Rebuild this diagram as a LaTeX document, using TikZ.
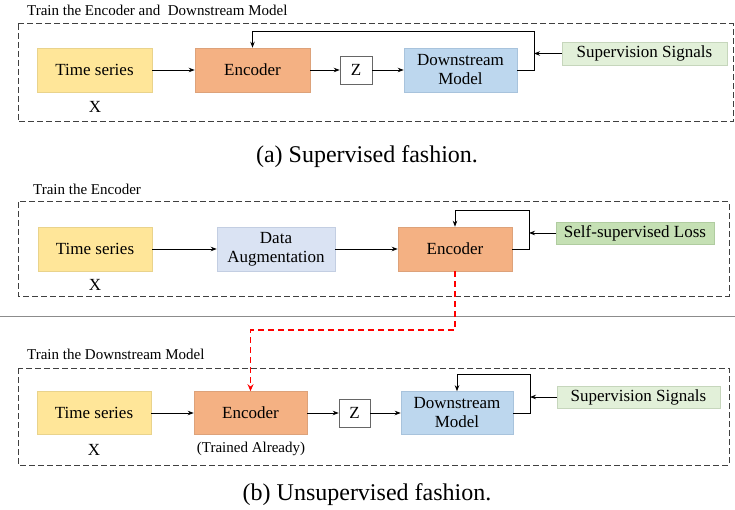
\documentclass[tikz,border=0pt]{standalone}
\usepackage{fontspec}
\setmainfont{Liberation Serif}
\usetikzlibrary{arrows.meta}
\definecolor{cY}{HTML}{FFE699}
\definecolor{cYd}{HTML}{E9D38C}
\definecolor{cO}{HTML}{F4B183}
\definecolor{cOd}{HTML}{DDA27A}
\definecolor{cB}{HTML}{BDD7EE}
\definecolor{cBd}{HTML}{A8C3DC}
\definecolor{cL}{HTML}{DAE3F3}
\definecolor{cLd}{HTML}{C3CEE2}
\definecolor{cG}{HTML}{E2F0D9}
\definecolor{cGd}{HTML}{C6D6BC}
\definecolor{cG2}{HTML}{C5E0B4}
\definecolor{cG2d}{HTML}{B0CCA0}
\begin{document}
\begin{tikzpicture}[x=1pt,y=-1pt,
  box/.style={inner sep=0pt, align=center, line width=0.6pt, font=\fontsize{17}{19}\selectfont},
  lbl/.style={inner sep=0pt, font=\fontsize{17}{19}\selectfont},
  ttl/.style={inner sep=0pt, anchor=west, font=\fontsize{15}{17}\selectfont},
  captxt/.style={inner sep=0pt, font=\fontsize{24}{28}\selectfont},
  arr/.style={-{Stealth[length=6pt,width=4.5pt]}, line width=0.8pt},
  frame/.style={dash pattern=on 6pt off 3pt, draw=black!75, line width=1pt},
  reddash/.style={draw=red, dash pattern=on 6pt off 4pt, line width=1.3pt, -{Stealth[length=7pt,width=6pt]}, color=red}]
\useasboundingbox (0,0) rectangle (735,510);

% ---------- (a) ----------
\node[ttl] (ta) at (27,10) {Train the Encoder and\ \ Downstream Model};
\draw[frame] (18,24) rectangle (733,122);
\node[box,fill=cY,draw=cYd,minimum width=115pt,minimum height=44pt] (ts1) at (94.5,70) {Time series};
\node[lbl] (x1) at (95,107) {X};
\node[box,fill=cO,draw=cOd,minimum width=115pt,minimum height=44pt] (enc1) at (252.5,70) {Encoder};
\node[box,fill=white,draw=black!60,minimum width=32pt,minimum height=28pt] (z1) at (356,70) {Z};
\node[box,fill=cB,draw=cBd,minimum width=113pt,minimum height=44pt] (ds1) at (460.5,70) {Downstream\\Model};
\node[box,fill=cG,draw=cGd,minimum width=165pt,minimum height=23pt] (sup1) at (644.5,53.5) {Supervision Signals};
\coordinate (fa) at (534,31);
\draw[arr] (ts1) -- (enc1);
\draw[arr] (enc1) -- (z1);
\draw[arr] (z1) -- (ds1);
\draw[arr] (ds1.east) -| (fa) -| (enc1.north);
\draw[arr] (sup1.west) -- (sup1.west -| fa);
\node[captxt] (capa) at (367,157) {(a) Supervised fashion.};

% ---------- (b) top ----------
\node[ttl] (tb) at (33,189) {Train the Encoder};
\draw[frame] (18,202) rectangle (729,296);
\node[box,fill=cY,draw=cYd,minimum width=114pt,minimum height=44pt] (ts2) at (95,249) {Time series};
\node[lbl] (x2) at (95,285) {X};
\node[box,fill=cL,draw=cLd,minimum width=118pt,minimum height=44pt] (da) at (276,249) {Data\\Augmentation};
\node[box,fill=cO,draw=cOd,minimum width=114pt,minimum height=44pt] (enc2) at (455,249) {Encoder};
\node[box,fill=cG2,draw=cG2d,minimum width=158pt,minimum height=22pt] (ssl) at (635,233) {Self-supervised Loss};
\coordinate (fb) at (529,210);
\draw[arr] (ts2) -- (da);
\draw[arr] (da) -- (enc2);
\draw[arr] (enc2.east) -| (fb) -| (enc2.north);
\draw[arr] (ssl.west) -- (ssl.west -| fb);

\draw[draw=black!45, line width=0.8pt] (0,316) -- (735,316);

% ---------- (b) bottom ----------
\node[ttl] (tc) at (27,354) {Train the Downstream Model};
\draw[frame] (18,368) rectangle (729,465);
\node[box,fill=cY,draw=cYd,minimum width=114pt,minimum height=43pt] (ts3) at (94,413) {Time series};
\node[lbl] (x3) at (94,450) {X};
\node[box,fill=cO,draw=cOd,minimum width=113pt,minimum height=43pt] (enc3) at (250.5,413) {Encoder};
\node[inner sep=0pt, font=\fontsize{15}{17}\selectfont] (tr) at (251,449) {(Trained Already)};
\node[box,fill=white,draw=black!60,minimum width=31pt,minimum height=28pt] (z3) at (354.5,413) {Z};
\node[box,fill=cB,draw=cBd,minimum width=112pt,minimum height=43pt] (ds3) at (457,413) {Downstream\\Model};
\node[box,fill=cG,draw=cGd,minimum width=163pt,minimum height=22pt] (sup3) at (638.5,397) {Supervision Signals};
\coordinate (fc) at (530,374);
\draw[arr] (ts3) -- (enc3);
\draw[arr] (enc3) -- (z3);
\draw[arr] (z3) -- (ds3);
\draw[arr] (ds3.east) -| (fc) -| (ds3.north);
\draw[arr] (sup3.west) -- (sup3.west -| fc);

\coordinate (rd) at (350,330);
\draw[reddash] (enc2.south) |- (rd) -| (enc3.north);

\node[captxt] (capb) at (367,495) {(b) Unsupervised fashion.};
\end{tikzpicture}
\end{document}
